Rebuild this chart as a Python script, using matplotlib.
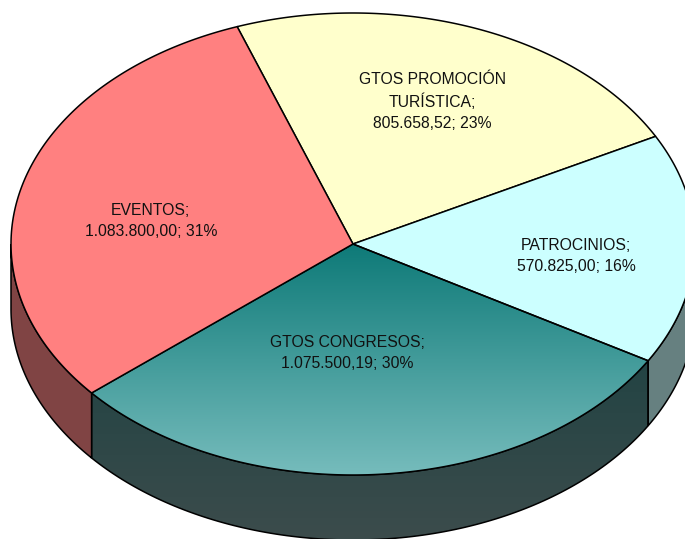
import numpy as np
import matplotlib
matplotlib.use("Agg")
import matplotlib.pyplot as plt
from matplotlib.patches import Polygon
from matplotlib.colors import to_rgb

# data (clockwise from the top-left boundary)
categories = ["GTOS PROMOCIÓN\nTURÍSTICA", "PATROCINIOS", "GTOS CONGRESOS", "EVENTOS"]
values = [805658.52, 570825.00, 1075500.19, 1083800.00]

top_colors = ["#FFFFCC", "#CCFFFF", None, "#FF8080"]   # None -> gradient
side_colors = ["#808066", "#668080", None, "#804444"]
label_r = [0.66, 0.654, 0.47, 0.60]
label_dt = [0.7, -3.2, -6.8, 5.4]   # degrees off the slice middle

# geometry of the pie in pixels
cx, cy = 353, 244
a, b = 342, 231
depth = 65
start = 109.8

plt.rcParams['font.family'] = ['Liberation Sans', 'DejaVu Sans']

fig = plt.figure(figsize=(6.85, 5.39), dpi=100)
ax = fig.add_axes([0, 0, 1, 1])
ax.set_xlim(0, 685)
ax.set_ylim(539, 0)
ax.axis('off')


def ell(t, dy=0):
    t = np.radians(t)
    return np.column_stack([cx + a * np.cos(t), cy - b * np.sin(t) + dy])


def es_fmt(v):
    s = f"{v:,.2f}"
    return s.replace(',', 'X').replace('.', ',').replace('X', '.')


def gradient_fill(poly, c_top, c_bot, y_top, y_bot):
    g = np.linspace(0, 1, 256)[:, None, None]
    img = (1 - g) * np.array(to_rgb(c_top)) + g * np.array(to_rgb(c_bot))
    im = ax.imshow(img, extent=[0, 685, y_bot, y_top], origin='upper',
                   aspect='auto', zorder=poly.get_zorder() - 0.1)
    im.set_clip_path(poly)


total = sum(values)
angles = []
t0 = start
for v in values:
    t1 = t0 - v / total * 360
    angles.append((t0, t1))
    t0 = t1

# side walls (only the front half is visible)
for i, (t0, t1) in enumerate(angles):
    lo, hi = t1, t0
    # bring the range into the front half [-180, 0]
    for shift in (0, -360, 360):
        s_lo, s_hi = max(lo + shift, -180), min(hi + shift, 0)
        if s_hi > s_lo:
            ts = np.linspace(s_hi, s_lo, 120)
            pts = np.vstack([ell(ts), ell(ts[::-1], depth)])
            if side_colors[i] is None:
                poly = Polygon(pts, closed=True, facecolor='none',
                               edgecolor='black', lw=1.1, zorder=2)
                ax.add_patch(poly)
                gradient_fill(poly, "#123E3E", "#3C4C4C", cy, cy + b + depth)
            else:
                ax.add_patch(Polygon(pts, closed=True, facecolor=side_colors[i],
                                     edgecolor='black', lw=1.1, zorder=2))

# top faces
for i, (t0, t1) in enumerate(angles):
    ts = np.linspace(t0, t1, 200)
    pts = np.vstack([[cx, cy], ell(ts)])
    if top_colors[i] is None:
        poly = Polygon(pts, closed=True, facecolor='none',
                       edgecolor='black', lw=1.1, zorder=4)
        ax.add_patch(poly)
        gradient_fill(poly, "#0E7A78", "#76BCBC", cy, cy + b)
    else:
        ax.add_patch(Polygon(pts, closed=True, facecolor=top_colors[i],
                             edgecolor='black', lw=1.1, zorder=4))

# labels
for i, (t0, t1) in enumerate(angles):
    mid = np.radians((t0 + t1) / 2 + label_dt[i])
    x = cx + a * label_r[i] * np.cos(mid)
    y = cy - b * label_r[i] * np.sin(mid)
    pct = round(values[i] / total * 100)
    txt = f"{categories[i]};\n{es_fmt(values[i])}; {pct}%"
    ax.text(x, y, txt, ha='center', va='center', fontsize=11.3,
            linespacing=1.5, color='#111111', zorder=6)

ax.set_xlim(0, 685)
ax.set_ylim(539, 0)
fig.savefig("out.png", dpi=100, facecolor='white')
